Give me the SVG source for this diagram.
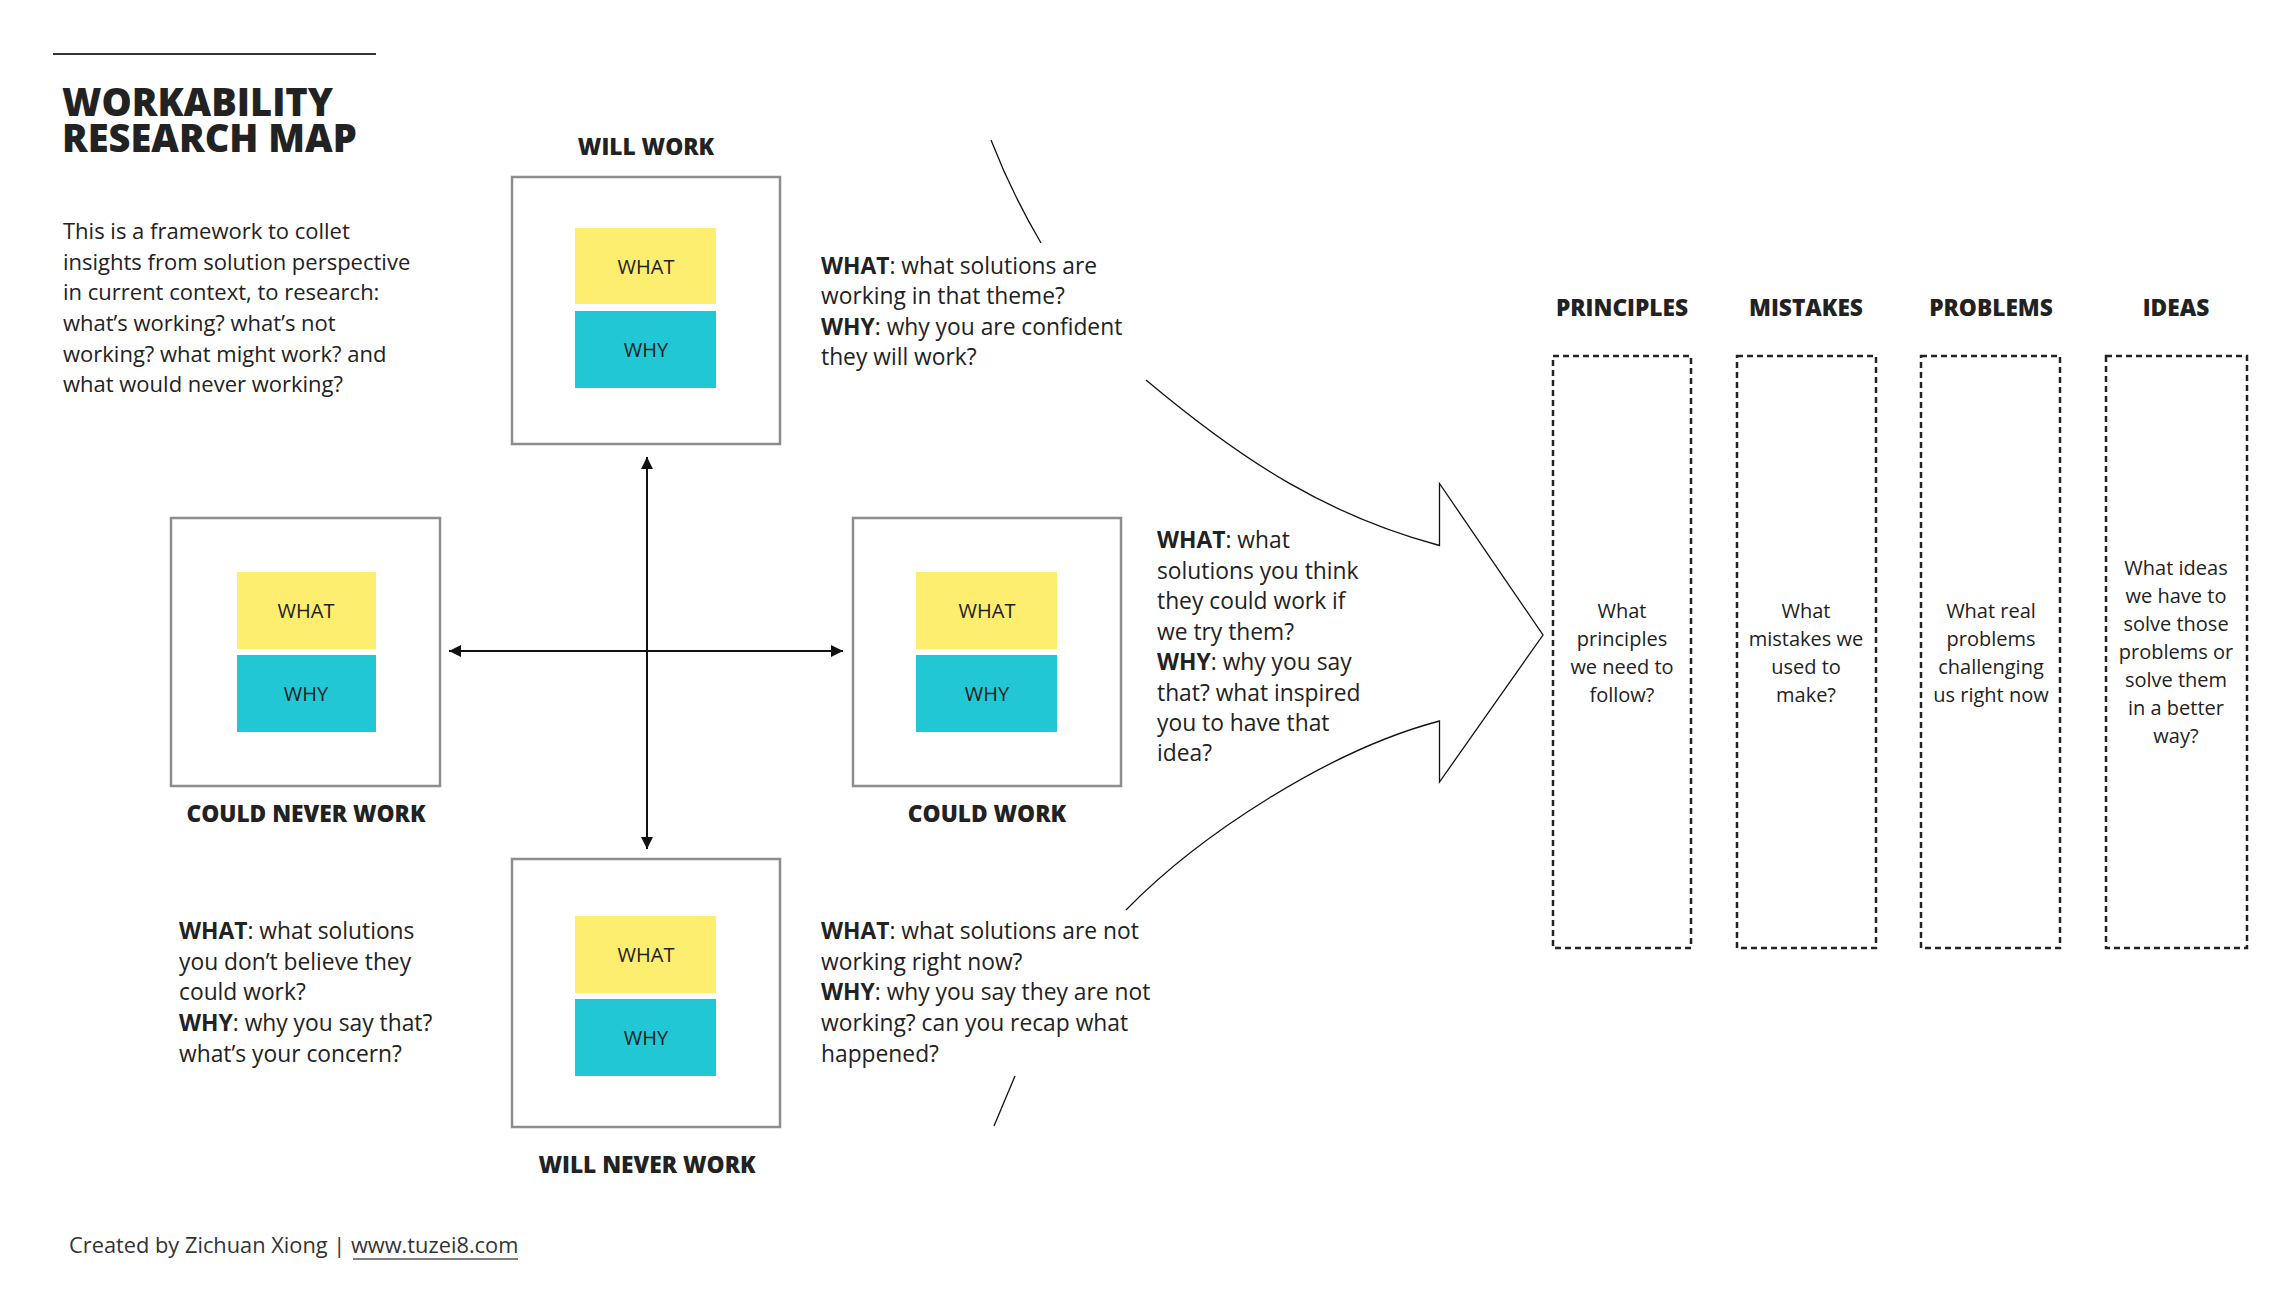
<svg xmlns="http://www.w3.org/2000/svg" width="2296" height="1294" viewBox="0 0 2296 1294">
  <style>
    text { font-family: "Open Sans", "Noto Sans", "Liberation Sans", sans-serif; fill: #222; }
    .title { font-size: 38px; font-weight: 800; }
    .head { font-size: 22.7px; font-weight: 800; text-anchor: middle; }
    .body { font-size: 22px; }
    .qa { font-size: 22.8px; }
    .b { font-weight: 700; }
    .sticky { font-size: 20px; text-anchor: middle; }
    .col { font-size: 20px; text-anchor: middle; }
    .frame { fill: #fff; stroke: #8d8d90; stroke-width: 2.5; }
    .what { fill: #feee70; }
    .why { fill: #22c7d5; }
    .dash { fill: none; stroke: #222; stroke-width: 2.5; stroke-dasharray: 6 4; }
    .axis { stroke: #111; stroke-width: 2; fill: none; }
    .thin { stroke: #111; stroke-width: 1.3; fill: none; }
  </style>
  <defs>
    <marker id="tip" markerUnits="userSpaceOnUse" markerWidth="13" markerHeight="13" refX="12" refY="6" orient="auto-start-reverse" viewBox="0 0 13 12">
      <path d="M0,0 L12,6 L0,12 z" fill="#111"/>
    </marker>
  </defs>

  <rect width="2296" height="1294" fill="#fff"/>

  <!-- header block -->
  <g id="header">
    <line x1="53" y1="54" x2="376" y2="54" stroke="#333" stroke-width="2"/>
    <text class="title" x="62" y="116">WORKABILITY<tspan x="62" y="152">RESEARCH MAP</tspan></text>
    <text class="body" x="63" y="239">This is a framework to collet</text>
    <text class="body" x="63" y="270">insights from solution perspective</text>
    <text class="body" x="63" y="300">in current context, to research:</text>
    <text class="body" x="63" y="331">what’s working? what’s not</text>
    <text class="body" x="63" y="362">working? what might work? and</text>
    <text class="body" x="63" y="392">what would never working?</text>
  </g>

  <!-- connectors: quadrant axes, funnel arrow, bracket strokes -->
  <g id="connectors">
    <line class="axis" x1="647" y1="457" x2="647" y2="849" marker-start="url(#tip)" marker-end="url(#tip)"/>
    <line class="axis" x1="449" y1="651" x2="843" y2="651" marker-start="url(#tip)" marker-end="url(#tip)"/>
    <path class="thin" d="M1146,380 C1246,464 1329.5,516 1439.5,545.5 L1439.5,483.5 L1543,635 L1439.5,782 L1439.5,721 C1329.5,750 1199,835 1126,910"/>
    <path class="thin" d="M991,140 Q1012,194 1041,243"/>
    <path class="thin" d="M1015,1076 L994,1126"/>
  </g>

  <!-- quadrant: will work -->
  <g id="will-work">
    <text class="head" x="646" y="155">WILL WORK</text>
    <rect class="frame" x="512" y="177" width="268" height="267"/>
    <rect class="what" x="575" y="228" width="141" height="76"/>
    <rect class="why" x="575" y="311" width="141" height="77"/>
    <text class="sticky" x="646" y="274">WHAT</text>
    <text class="sticky" x="646" y="357">WHY</text>
    <text class="qa" x="821" y="274"><tspan class="b">WHAT</tspan>: what solutions are</text>
    <text class="qa" x="821" y="304">working in that theme?</text>
    <text class="qa" x="821" y="335"><tspan class="b">WHY</tspan>: why you are confident</text>
    <text class="qa" x="821" y="365">they will work?</text>
  </g>

  <!-- quadrant: could never work -->
  <g id="could-never-work">
    <rect class="frame" x="171" y="518" width="269" height="268"/>
    <rect class="what" x="237" y="572" width="139" height="77"/>
    <rect class="why" x="237" y="655" width="139" height="77"/>
    <text class="sticky" x="306" y="618">WHAT</text>
    <text class="sticky" x="306" y="701">WHY</text>
    <text class="head" x="306" y="822">COULD NEVER WORK</text>
    <text class="qa" x="179" y="939"><tspan class="b">WHAT</tspan>: what solutions</text>
    <text class="qa" x="179" y="970">you don’t believe they</text>
    <text class="qa" x="179" y="1000">could work?</text>
    <text class="qa" x="179" y="1031"><tspan class="b">WHY</tspan>: why you say that?</text>
    <text class="qa" x="179" y="1062">what’s your concern?</text>
  </g>

  <!-- quadrant: could work -->
  <g id="could-work">
    <rect class="frame" x="853" y="518" width="268" height="268"/>
    <rect class="what" x="916" y="572" width="141" height="77"/>
    <rect class="why" x="916" y="655" width="141" height="77"/>
    <text class="sticky" x="987" y="618">WHAT</text>
    <text class="sticky" x="987" y="701">WHY</text>
    <text class="head" x="987" y="822">COULD WORK</text>
    <text class="qa" x="1157" y="548"><tspan class="b">WHAT</tspan>: what</text>
    <text class="qa" x="1157" y="579">solutions you think</text>
    <text class="qa" x="1157" y="609">they could work if</text>
    <text class="qa" x="1157" y="640">we try them?</text>
    <text class="qa" x="1157" y="670"><tspan class="b">WHY</tspan>: why you say</text>
    <text class="qa" x="1157" y="701">that? what inspired</text>
    <text class="qa" x="1157" y="731">you to have that</text>
    <text class="qa" x="1157" y="761">idea?</text>
  </g>

  <!-- quadrant: will never work -->
  <g id="will-never-work">
    <rect class="frame" x="512" y="859" width="268" height="268"/>
    <rect class="what" x="575" y="916" width="141" height="77"/>
    <rect class="why" x="575" y="999" width="141" height="77"/>
    <text class="sticky" x="646" y="962">WHAT</text>
    <text class="sticky" x="646" y="1045">WHY</text>
    <text class="head" x="647" y="1173">WILL NEVER WORK</text>
    <text class="qa" x="821" y="939"><tspan class="b">WHAT</tspan>: what solutions are not</text>
    <text class="qa" x="821" y="970">working right now?</text>
    <text class="qa" x="821" y="1000"><tspan class="b">WHY</tspan>: why you say they are not</text>
    <text class="qa" x="821" y="1031">working? can you recap what</text>
    <text class="qa" x="821" y="1062">happened?</text>
  </g>

  <!-- output columns -->
  <g id="principles">
    <text class="head" x="1622" y="316">PRINCIPLES</text>
    <rect class="dash" x="1553" y="356" width="138" height="592"/>
    <text class="col" x="1622" y="618">What</text>
    <text class="col" x="1622" y="646">principles</text>
    <text class="col" x="1622" y="674">we need to</text>
    <text class="col" x="1622" y="702">follow?</text>
  </g>
  <g id="mistakes">
    <text class="head" x="1806" y="316">MISTAKES</text>
    <rect class="dash" x="1737" y="356" width="139" height="592"/>
    <text class="col" x="1806" y="618">What</text>
    <text class="col" x="1806" y="646">mistakes we</text>
    <text class="col" x="1806" y="674">used to</text>
    <text class="col" x="1806" y="702">make?</text>
  </g>
  <g id="problems">
    <text class="head" x="1991" y="316">PROBLEMS</text>
    <rect class="dash" x="1921" y="356" width="139" height="592"/>
    <text class="col" x="1991" y="618">What real</text>
    <text class="col" x="1991" y="646">problems</text>
    <text class="col" x="1991" y="674">challenging</text>
    <text class="col" x="1991" y="702">us right now</text>
  </g>
  <g id="ideas">
    <text class="head" x="2176" y="316">IDEAS</text>
    <rect class="dash" x="2106" y="356" width="141" height="592"/>
    <text class="col" x="2176" y="575">What ideas</text>
    <text class="col" x="2176" y="603">we have to</text>
    <text class="col" x="2176" y="631">solve those</text>
    <text class="col" x="2176" y="659">problems or</text>
    <text class="col" x="2176" y="687">solve them</text>
    <text class="col" x="2176" y="715">in a better</text>
    <text class="col" x="2176" y="743">way?</text>
  </g>

  <!-- credit line -->
  <g id="footer">
    <text x="69" y="1253" style="font-size:21.8px;fill:#333">Created by Zichuan Xiong | <tspan>www.tuzei8.com</tspan></text>
    <line x1="353" y1="1259" x2="518" y2="1259" stroke="#555" stroke-width="1.5"/>
  </g>
</svg>
